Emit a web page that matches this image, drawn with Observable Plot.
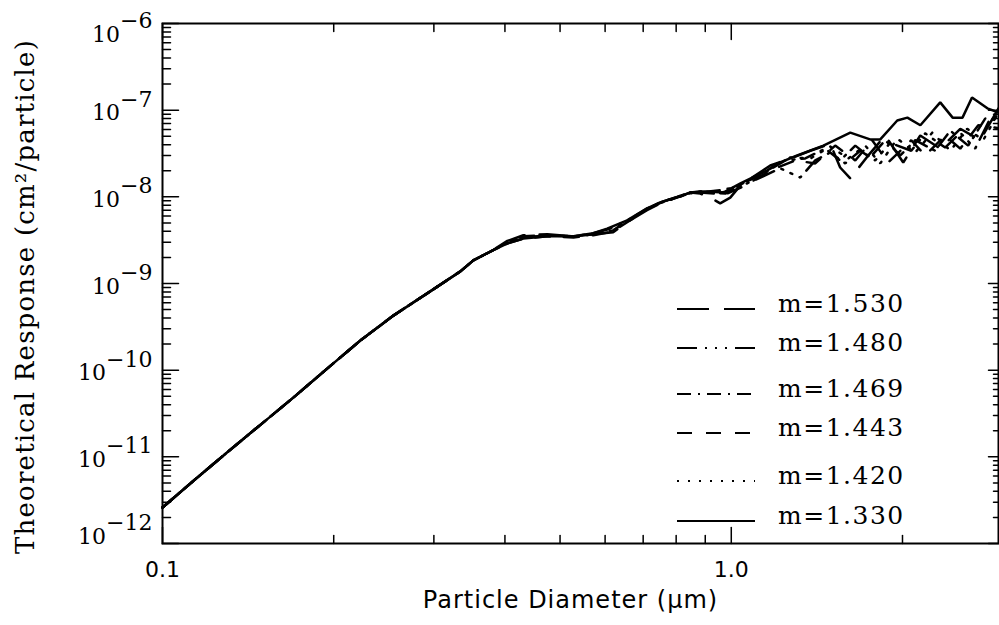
<!DOCTYPE html>
<html><head><meta charset="utf-8">
<script src="https://cdn.jsdelivr.net/npm/d3@7"></script>
<script src="https://cdn.jsdelivr.net/npm/@observablehq/plot@0.6"></script>
<style>
body{margin:0;background:#fff}
.ytitle text{letter-spacing:1.2px}
.xtitle text{letter-spacing:1px}
</style>
</head><body><div id="chart"></div>
<script>
// ---- data ----
const labels = ["m=1.530","m=1.480","m=1.469","m=1.443","m=1.420","m=1.330"];

// shared small-particle part (all curves coincide)
const headD = [0.100,0.113,0.130,0.149,0.170,0.195,0.223,0.255,0.292,0.334,0.352,0.380];
const headR = [2.6e-12,5.2e-12,1.13e-11,2.37e-11,4.85e-11,1.05e-10,2.21e-10,4.29e-10,7.7e-10,1.38e-9,1.85e-9,2.4e-9];

const d1530 = [0.404,0.431,0.475,0.528,0.572,0.620,0.656,0.711,0.750,0.847,0.882,0.919,0.956,0.996,1.037,1.171,1.270,1.377,1.493,1.554,1.619,1.730,1.865,2.006,2.149,2.330,2.527,2.739,2.95];
const r1530 = [3.1e-9,3.6e-9,3.7e-9,3.5e-9,3.7e-9,3.9e-9,5.1e-9,7.0e-9,8.4e-9,1.12e-8,1.09e-8,9.8e-9,8.4e-9,9.8e-9,1.35e-8,2.3e-8,2.77e-8,3.4e-8,4.1e-8,2.18e-8,1.63e-8,2.85e-8,5.1e-8,2.49e-8,5.1e-8,3.6e-8,6.1e-8,4.5e-8,1.05e-7];

const d1480 = [0.404,0.431,0.475,0.528,0.572,0.605,0.656,0.711,0.750,0.847,0.882,0.956,1.037,1.125,1.219,1.322,1.405,1.493,1.586,1.685,1.791,1.903,2.072,2.192,2.377,2.527,2.684,2.852,2.95];
const r1480 = [2.9e-9,3.4e-9,3.6e-9,3.5e-9,3.8e-9,4.2e-9,5.2e-9,7.2e-9,8.5e-9,1.1e-8,1.12e-8,1.19e-8,1.32e-8,1.67e-8,2.13e-8,1.67e-8,2.63e-8,3.25e-8,2.43e-8,3.4e-8,2.63e-8,4.2e-8,3.4e-8,5.4e-8,3.7e-8,5.5e-8,3.6e-8,8.0e-8,8.7e-8];

const d1469 = [0.404,0.431,0.475,0.528,0.572,0.620,0.656,0.711,0.750,0.847,0.882,0.976,1.058,1.148,1.244,1.349,1.463,1.554,1.652,1.755,1.865,1.982,2.106,2.283,2.427,2.609,2.795,2.95];
const r1469 = [3.0e-9,3.5e-9,3.6e-9,3.5e-9,3.7e-9,4.1e-9,5.3e-9,7.3e-9,8.6e-9,1.12e-8,1.15e-8,1.09e-8,1.47e-8,1.91e-8,2.63e-8,2.77e-8,3.6e-8,2.63e-8,3.9e-8,2.85e-8,4.5e-8,3.0e-8,4.5e-8,3.4e-8,5.8e-8,3.9e-8,8.0e-8,7.6e-8];

const d1443 = [0.404,0.431,0.475,0.528,0.572,0.620,0.656,0.711,0.750,0.847,0.882,0.976,1.058,1.171,1.296,1.405,1.523,1.652,1.769,1.888,2.072,2.192,2.377,2.527,2.718,2.95];
const r1443 = [2.9e-9,3.3e-9,3.5e-9,3.4e-9,3.6e-9,4.0e-9,5.1e-9,7.2e-9,8.5e-9,1.1e-8,1.12e-8,1.07e-8,1.35e-8,2.02e-8,2.63e-8,2.43e-8,3.9e-8,2.63e-8,4.5e-8,2.49e-8,4.5e-8,3.0e-8,5.1e-8,3.6e-8,6.7e-8,6.2e-8];

const d1420 = [0.404,0.431,0.475,0.528,0.572,0.605,0.656,0.711,0.750,0.847,0.882,0.964,1.058,1.171,1.270,1.377,1.493,1.606,1.720,1.828,1.958,2.106,2.256,2.427,2.599,2.773,2.95];
const r1420 = [3.0e-9,3.4e-9,3.6e-9,3.5e-9,3.7e-9,4.2e-9,5.3e-9,7.3e-9,8.6e-9,1.12e-8,1.15e-8,1.12e-8,1.47e-8,2.13e-8,2.85e-8,2.77e-8,3.8e-8,2.77e-8,3.9e-8,2.43e-8,4.7e-8,3.25e-8,5.5e-8,3.4e-8,6.1e-8,4.5e-8,9.4e-8];

const d1330 = [0.404,0.431,0.475,0.528,0.572,0.605,0.656,0.711,0.750,0.847,0.908,0.968,1.038,1.157,1.219,1.306,1.452,1.619,1.754,1.828,1.958,2.04,2.15,2.33,2.45,2.55,2.65,2.82,2.95];
const r1330 = [2.9e-9,3.3e-9,3.5e-9,3.5e-9,3.8e-9,4.3e-9,5.35e-9,7.35e-9,8.6e-9,1.12e-8,1.15e-8,1.12e-8,1.43e-8,2.02e-8,2.5e-8,3.0e-8,3.9e-8,5.5e-8,4.6e-8,4.6e-8,7.6e-8,8.2e-8,6.7e-8,1.23e-7,8.2e-8,8.2e-8,1.40e-7,1.05e-7,9.4e-8];

// tick values / labels
const yDecades = [1e-12,1e-11,1e-10,1e-9,1e-8,1e-7,1e-6];
const yDecadeLabels = ["10^−12","10^−11","10^−10","10^−9","10^−8","10^−7","10^−6"];
const xLabelTicks = [0.1, 1.0];
const xLabelText = ["0.1","1.0"];
const xMinorTicks = [0.2,0.3,0.4,0.5,0.6,0.7,0.8,0.9,2.0];

// ---- styles ----
const dashes = ["32,15", "20,8,2,8,2,8,2,8", "14,7,2,7", "15,14", "2,9", null];

const tails = [[d1530,r1530],[d1480,r1480],[d1469,r1469],[d1443,r1443],[d1420,r1420],[d1330,r1330]];
const seriesRows = tails.map(([d, r], i) => {
  const rr = [...headR, ...r];
  return [...headD, ...d].map((dv, j) => ({m: labels[i], d: dv, r: rr[j]}));
});

const yMinor = [];
for (let e = -12; e < -6; e++) for (let k = 2; k <= 9; k++) yMinor.push(k * Math.pow(10, e));

const tickShape = {draw(context, l) { context.moveTo(0, 0); context.lineTo(0, -l); }};
function ticks(values, channel, frameAnchor, rotate, length) {
  return Plot.vector(values, {[channel]: d => d, frameAnchor, rotate, length, anchor: "start",
    shape: tickShape, stroke: "black", strokeWidth: 1.5});
}

const serif = "DejaVu Serif";
const sans = "DejaVu Sans";

const lineMarks = seriesRows.map((rows, i) =>
  Plot.line(rows, {x: "d", y: "r", stroke: "black", strokeWidth: 2.5,
    strokeDasharray: dashes[i] || undefined, strokeLinejoin: "miter"}));

const ylabMid = yDecades.map((v, i) => ({v, t: yDecadeLabels[i]})).slice(1, -1);
const ylabTop = [{v: yDecades[6], t: yDecadeLabels[6]}];
const ylabBot = [{v: yDecades[0], t: yDecadeLabels[0]}];
const ylabOpts = {y: "v", text: "t", frameAnchor: "left", textAnchor: "end", dx: -10,
  fontFamily: serif, fontSize: 22, fill: "black", className: "ylab"};

const svg = Plot.plot({
  width: 999, height: 625,
  marginLeft: 162, marginRight: 1, marginTop: 23, marginBottom: 82,
  style: {background: "white", color: "black"},
  x: {type: "log", domain: [0.1, 2.95], axis: null},
  y: {type: "log", domain: [1e-12, 1e-6], axis: null},
  marks: [
    ...lineMarks,
    ticks(yDecades, "y", "left", 90, 16),
    ticks(yMinor, "y", "left", 90, 8),
    ticks(yDecades, "y", "right", 270, 10),
    ticks(yMinor, "y", "right", 270, 5),
    ticks(xLabelTicks, "x", "bottom", 0, 16),
    ticks(xMinorTicks, "x", "bottom", 0, 8),
    ticks(xLabelTicks, "x", "top", 180, 16),
    ticks(xMinorTicks, "x", "top", 180, 8),
    Plot.frame({stroke: "black", strokeWidth: 2}),
    Plot.text(ylabMid, {...ylabOpts, dy: 3}),
    Plot.text(ylabTop, {...ylabOpts, dy: 11}),
    Plot.text(ylabBot, {...ylabOpts, dy: -7}),
    Plot.text(xLabelTicks, {x: d => d, text: (d, i) => xLabelText[i], frameAnchor: "bottom",
      textAnchor: "middle", dy: 33, fontFamily: sans, fontSize: 22, fill: "black"}),
    Plot.text(["Particle Diameter (μm)"], {frameAnchor: "bottom", textAnchor: "middle", dx: -10, dy: 64,
      fontFamily: sans, fontSize: 24, fill: "black", className: "xtitle"}),
    Plot.text(["Theoretical Response (cm²/particle)"], {frameAnchor: "left", textAnchor: "middle",
      rotate: -90, dx: -137, dy: 13, fontFamily: serif, fontSize: 26, fill: "black", className: "ytitle"})
  ]
});

// superscript exponents in y labels
d3.select(svg).selectAll("g.ylab text").each(function () {
  const [b, e] = this.textContent.split("^");
  const t = d3.select(this);
  t.text(b);
  t.append("tspan").attr("dy", "-0.62em").text(e);
});

// legend (inside plot area)
const legendTextY = [303, 342, 388, 427, 475, 515];
const lg = d3.select(svg).append("g").attr("text-anchor", "start");
labels.forEach((lab, i) => {
  const cy = legendTextY[i];
  lg.append("line").attr("x1", 677).attr("x2", 755).attr("y1", cy + 6).attr("y2", cy + 6)
    .attr("stroke", "black").attr("stroke-width", 2)
    .attr("stroke-dasharray", dashes[i] || null);
  lg.append("text").attr("x", 778).attr("y", cy).attr("dy", "0.35em")
    .attr("text-anchor", "start")
    .attr("font-family", serif).attr("font-size", 25).attr("letter-spacing", "1.5px")
    .attr("fill", "black").text(lab);
});

document.getElementById("chart").appendChild(svg);
</script>
</body></html>
